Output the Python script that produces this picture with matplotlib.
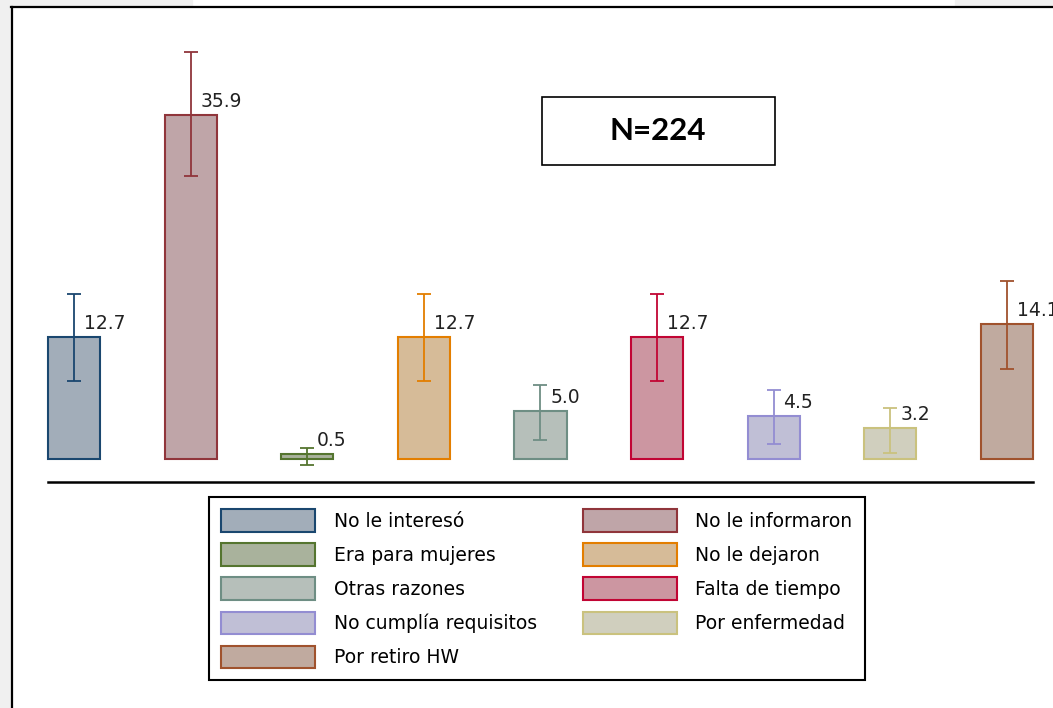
import matplotlib.pyplot as plt
from matplotlib.patches import Rectangle, Patch
import numpy as np

# razones para no participar (%), con intervalos de confianza
razones = ["No le interesó", "No le informaron", "Era para mujeres", "No le dejaron",
           "Otras razones", "Falta de tiempo", "No cumplía requisitos",
           "Por enfermedad", "Por retiro HW"]
porcentaje = [12.7, 35.9, 0.5, 12.7, 5.0, 12.7, 4.5, 3.2, 14.1]
ic_inf = [8.1, 29.5, -0.6, 8.1, 2.0, 8.1, 1.6, 0.6, 9.4]
ic_sup = [17.2, 42.5, 1.2, 17.2, 7.7, 17.2, 7.2, 5.3, 18.6]

bordes = ["#1a476f", "#90353b", "#55752f", "#e37e00", "#6e8e84",
          "#c10534", "#938dd2", "#cac27e", "#a0522d"]
rellenos = ["#a2adb9", "#bfa5a8", "#a9b29c", "#d6bb98", "#b6bfba",
            "#cc96a1", "#c0bfd6", "#d0cfbe", "#c0aa9f"]

W, H = 1053, 708
fig = plt.figure(figsize=(W / 100, H / 100), dpi=100)
fig.patch.set_facecolor("white")

# marco de la captura
gris = "#f0f0f0"
fig.patches.append(Rectangle((0, 0), 11 / W, 1, transform=fig.transFigure, color=gris, zorder=0))
fig.patches.append(Rectangle((0, 1 - 6 / H), 192 / W, 6 / H, transform=fig.transFigure, color=gris, zorder=0))
fig.patches.append(Rectangle((955 / W, 1 - 6 / H), 98 / W, 6 / H, transform=fig.transFigure, color=gris, zorder=0))
fig.add_artist(plt.Line2D([11 / W, 1], [1 - 7 / H, 1 - 7 / H], color="black", lw=1.6))
fig.add_artist(plt.Line2D([11.5 / W, 11.5 / W], [0, 1 - 7 / H], color="black", lw=1.6))

# ejes: barras de 0 a 8
px_unidad = 9.58
ymin, ymax = -2.4, 45
alto = (ymax - ymin) * px_unidad
ax = fig.add_axes([48 / W, (H - 482) / H, (1033 - 48) / W, alto / H])
ax.set_facecolor("none")

x = np.arange(len(razones))
ancho = 0.446
barras = ax.bar(x, porcentaje, width=ancho, color=rellenos, edgecolor=bordes, linewidth=1.5, zorder=2)
for b in barras:
    b.set_clip_on(False)
for i in range(len(x)):
    ax.errorbar(x[i], porcentaje[i],
                yerr=[[porcentaje[i] - ic_inf[i]], [ic_sup[i] - porcentaje[i]]],
                fmt="none", ecolor=bordes[i], elinewidth=1.3, capsize=5, capthick=1.3, zorder=3)
    ax.annotate(f"{porcentaje[i]:.1f}", (x[i], porcentaje[i]), xytext=(7, 3),
                textcoords="offset points", ha="left", va="bottom",
                fontsize=13.5, color="#222222", annotation_clip=False, zorder=4)

ax.set_xlim(-ancho / 2, len(x) - 1 + ancho / 2)
ax.set_ylim(ymin, ymax)
for s in ["top", "right", "left"]:
    ax.spines[s].set_visible(False)
ax.spines["bottom"].set_linewidth(1.8)
ax.set_xticks([])
ax.set_yticks([])

# recuadro con el tamaño de muestra
fig.patches.append(Rectangle((542 / W, 1 - 165 / H), 233 / W, 68 / H, transform=fig.transFigure,
                             facecolor="white", edgecolor="black", lw=1.2, zorder=5))
fig.text(658 / W, 1 - 131 / H, "N=224", ha="center", va="center", fontsize=22.5,
         fontweight="bold", family="Lato", zorder=6)

# leyenda en dos columnas, ordenada por filas
handles = [Patch(facecolor=rellenos[i], edgecolor=bordes[i], lw=1.5) for i in range(len(razones))]
orden = [0, 2, 4, 6, 8, 1, 3, 5, 7]
leg = fig.legend([handles[i] for i in orden], [razones[i] for i in orden], ncol=2,
                 loc="upper left", bbox_to_anchor=(209 / W, 1 - 497 / H), borderaxespad=0,
                 fontsize=13.5, handlelength=5.0, handleheight=1.47, handletextpad=1.0,
                 labelspacing=0.62, columnspacing=2.45, borderpad=0.65,
                 fancybox=False, framealpha=1, edgecolor="black")
leg.get_frame().set_linewidth(1.5)

fig.savefig("out.png", dpi=100)
